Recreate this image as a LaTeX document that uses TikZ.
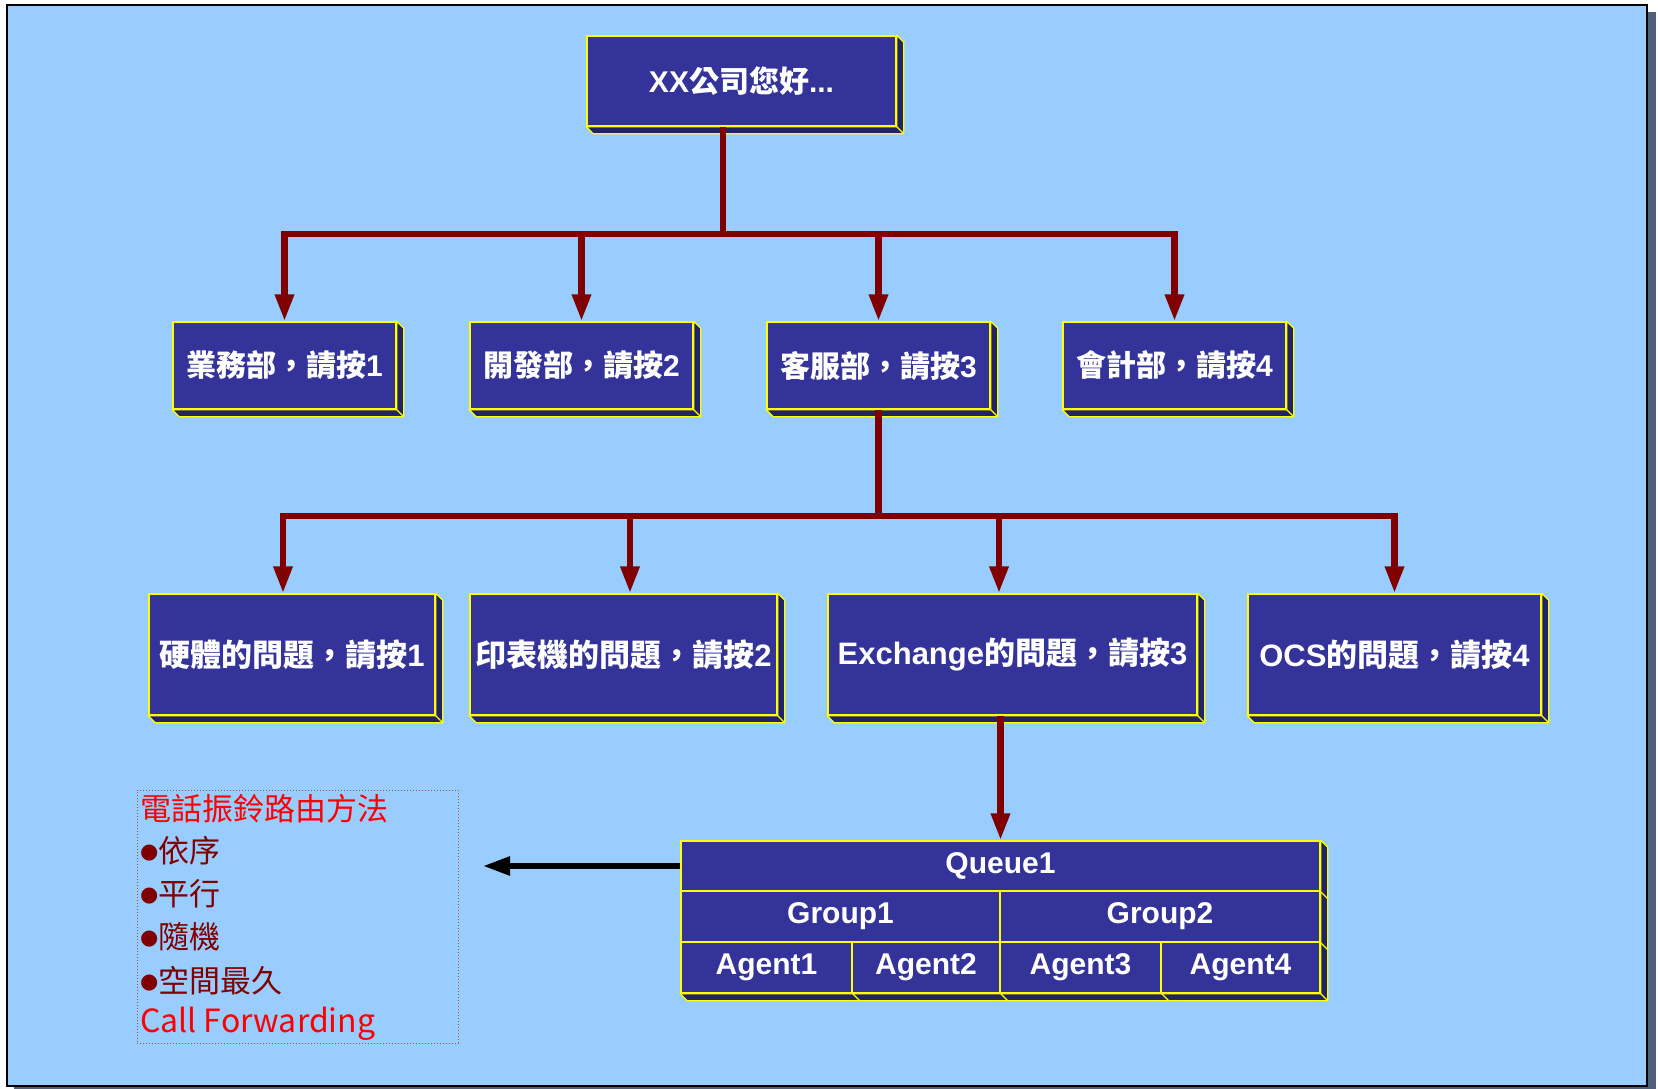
\documentclass[tikz,border=0pt]{standalone}
\usepackage{fontspec}
\setmainfont{Liberation Sans}
\newfontfamily\cjk{Noto Sans CJK TC}
\newfontfamily\djv{DejaVu Sans}
\usetikzlibrary{arrows.meta}
\definecolor{bg}{HTML}{99CCFF}
\definecolor{boxblue}{HTML}{333399}
\definecolor{extr}{HTML}{222266}
\definecolor{yel}{HTML}{FFFF00}
\definecolor{dred}{HTML}{800000}
\definecolor{frsh}{HTML}{50607A}
\definecolor{dotc}{HTML}{A0522D}
\newcommand\zh[1]{{\cjk\bfseries #1}}
\newcommand\bul{\raisebox{4pt}{\djv\fontsize{21}{21}\selectfont ●}}
\newcommand\mkext[1]{%
  \fill[ext] (#1.north east) -- ++(7,7) -- ([shift={(7,7)}]#1.south east) -- ([shift={(7,7)}]#1.south west) -- (#1.south west) -- (#1.south east) -- cycle;
  \draw[yel,line width=1.2pt] (#1.south east) -- ++(7,7);}
\begin{document}
\begin{tikzpicture}[x=1pt,y=-1pt,
  box/.style={draw=yel,fill=boxblue,line width=1.5pt,inner sep=0pt,text=white,font=\fontsize{30}{30}\selectfont\bfseries},
  ext/.style={fill=extr,draw=yel,line width=1.2pt,line join=round},
  redl/.style={draw=dred,line width=6.5pt},
  redarr/.style={redl,-{Triangle[length=27pt,width=18pt]}},
  blkarr/.style={draw=black,line width=5.5pt,-{Triangle[length=27pt,width=18pt]}},
  lvlone/.style={box,minimum width=223pt,minimum height=87pt},
  lvltwo/.style={box,minimum height=121pt,font=\fontsize{31}{31}\selectfont\bfseries},
  cell/.style={box,minimum height=51pt},
  sidetxt/.style={anchor=base west,inner sep=0pt,font=\cjk\fontsize{31}{31}\selectfont}]
\useasboundingbox (0,0) rectangle (1658,1089);
% frame
\fill[white] (0,0) rectangle (1658,1089);
\fill[frsh] (1648,12) rectangle (1656,1089);
\fill[frsh] (14,1087) rectangle (1656,1089);
\fill[bg,draw=black,line width=1.5pt] (7,5) rectangle (1647,1086);
% top
\node[box,minimum width=309pt,minimum height=90pt] (top) at (741.5,81) {XX\zh{公司您好}...};
\mkext{top}
% level 1
\node[lvlone] (a1) at (284.5,365.5) {\zh{業務部，請按}1};
\node[lvlone] (a2) at (581.5,365.5) {\zh{開發部，請按}2};
\node[lvlone] (a3) at (878.5,365.5) {\zh{客服部，請按}3};
\node[lvlone] (a4) at (1174.5,365.5) {\zh{會計部，請按}4};
\mkext{a1}\mkext{a2}\mkext{a3}\mkext{a4}
% level 2
\node[lvltwo,minimum width=286pt] (b1) at (292,654.5) {\zh{硬體的問題，請按}1};
\node[lvltwo,minimum width=307pt] (b2) at (623.5,654.5) {\zh{印表機的問題，請按}2};
\node[lvltwo,minimum width=369pt] (b3) at (1012.5,654.5) {Exchange\zh{的問題，請按}3};
\node[lvltwo,minimum width=293pt] (b4) at (1394.5,654.5) {OCS\zh{的問題，請按}4};
\mkext{b1}\mkext{b2}\mkext{b3}\mkext{b4}
% queue table
\node[box,minimum width=639pt,minimum height=50pt] (q) at (1000.5,866) {Queue1};
\node[cell,minimum width=319pt] (g1) at (840.5,916.5) {Group1};
\node[cell,minimum width=320pt] (g2) at (1160,916.5) {Group2};
\node[cell,minimum width=171pt] (ag1) at (766.5,967.5) {Agent1};
\node[cell,minimum width=148pt] (ag2) at (926,967.5) {Agent2};
\node[cell,minimum width=161pt] (ag3) at (1080.5,967.5) {Agent3};
\node[cell,minimum width=159pt] (ag4) at (1240.5,967.5) {Agent4};
\fill[ext] (q.north east) -- ++(7,7) -- ([shift={(7,7)}]ag4.south east) -- ([shift={(7,7)}]ag1.south west) -- (ag1.south west) -- (ag4.south east) -- cycle;
\foreach \n in {q,g2,ag1,ag2,ag3,ag4}{\draw[yel,line width=1.2pt] (\n.south east) -- ++(7,7);}
% connectors level 1
\coordinate (j1) at (723,234);
\draw[redl] ([xshift=-18.5pt]top.south) -- (j1);
\draw[redarr] (j1) -| (a1.north);
\draw[redarr] (j1) -| (a2.north);
\draw[redarr] (j1) -| (a3.north);
\draw[redarr] (j1) -| (a4.north);
% connectors level 2
\coordinate (j2) at (878.5,516);
\draw[redl] (a3.south) -- (j2);
\draw[redarr] (j2) -| ([xshift=-9pt]b1.north);
\draw[redarr] (j2) -| ([xshift=6.5pt]b2.north);
\draw[redarr] (j2) -| ([xshift=-13.5pt]b3.north);
\draw[redarr] (j2) -| (b4.north);
\draw[redarr] (q.north |- b3.south) -- (q.north);
% side text box
\node[draw=dotc,dotted,line width=1pt,minimum width=321pt,minimum height=253pt,inner sep=0pt] (tb) at (297.5,916.5) {};
\coordinate (bt) at (483,866);
\draw[blkarr] (q.west) -- (bt);
\node[sidetxt,text=red] (l1) at (140,820) {電話振鈴路由方法};
\node[sidetxt,text=dred] (l2) at (140,862) {\bul 依序};
\node[sidetxt,text=dred] (l3) at (140,905) {\bul 平行};
\node[sidetxt,text=dred] (l4) at (140,948) {\bul 隨機};
\node[sidetxt,text=dred] (l5) at (140,992) {\bul 空間最久};
\node[sidetxt,text=red,font=\cjk\fontsize{32}{32}\selectfont] (l6) at (140,1032) {Call Forwarding};
\end{tikzpicture}
\end{document}
